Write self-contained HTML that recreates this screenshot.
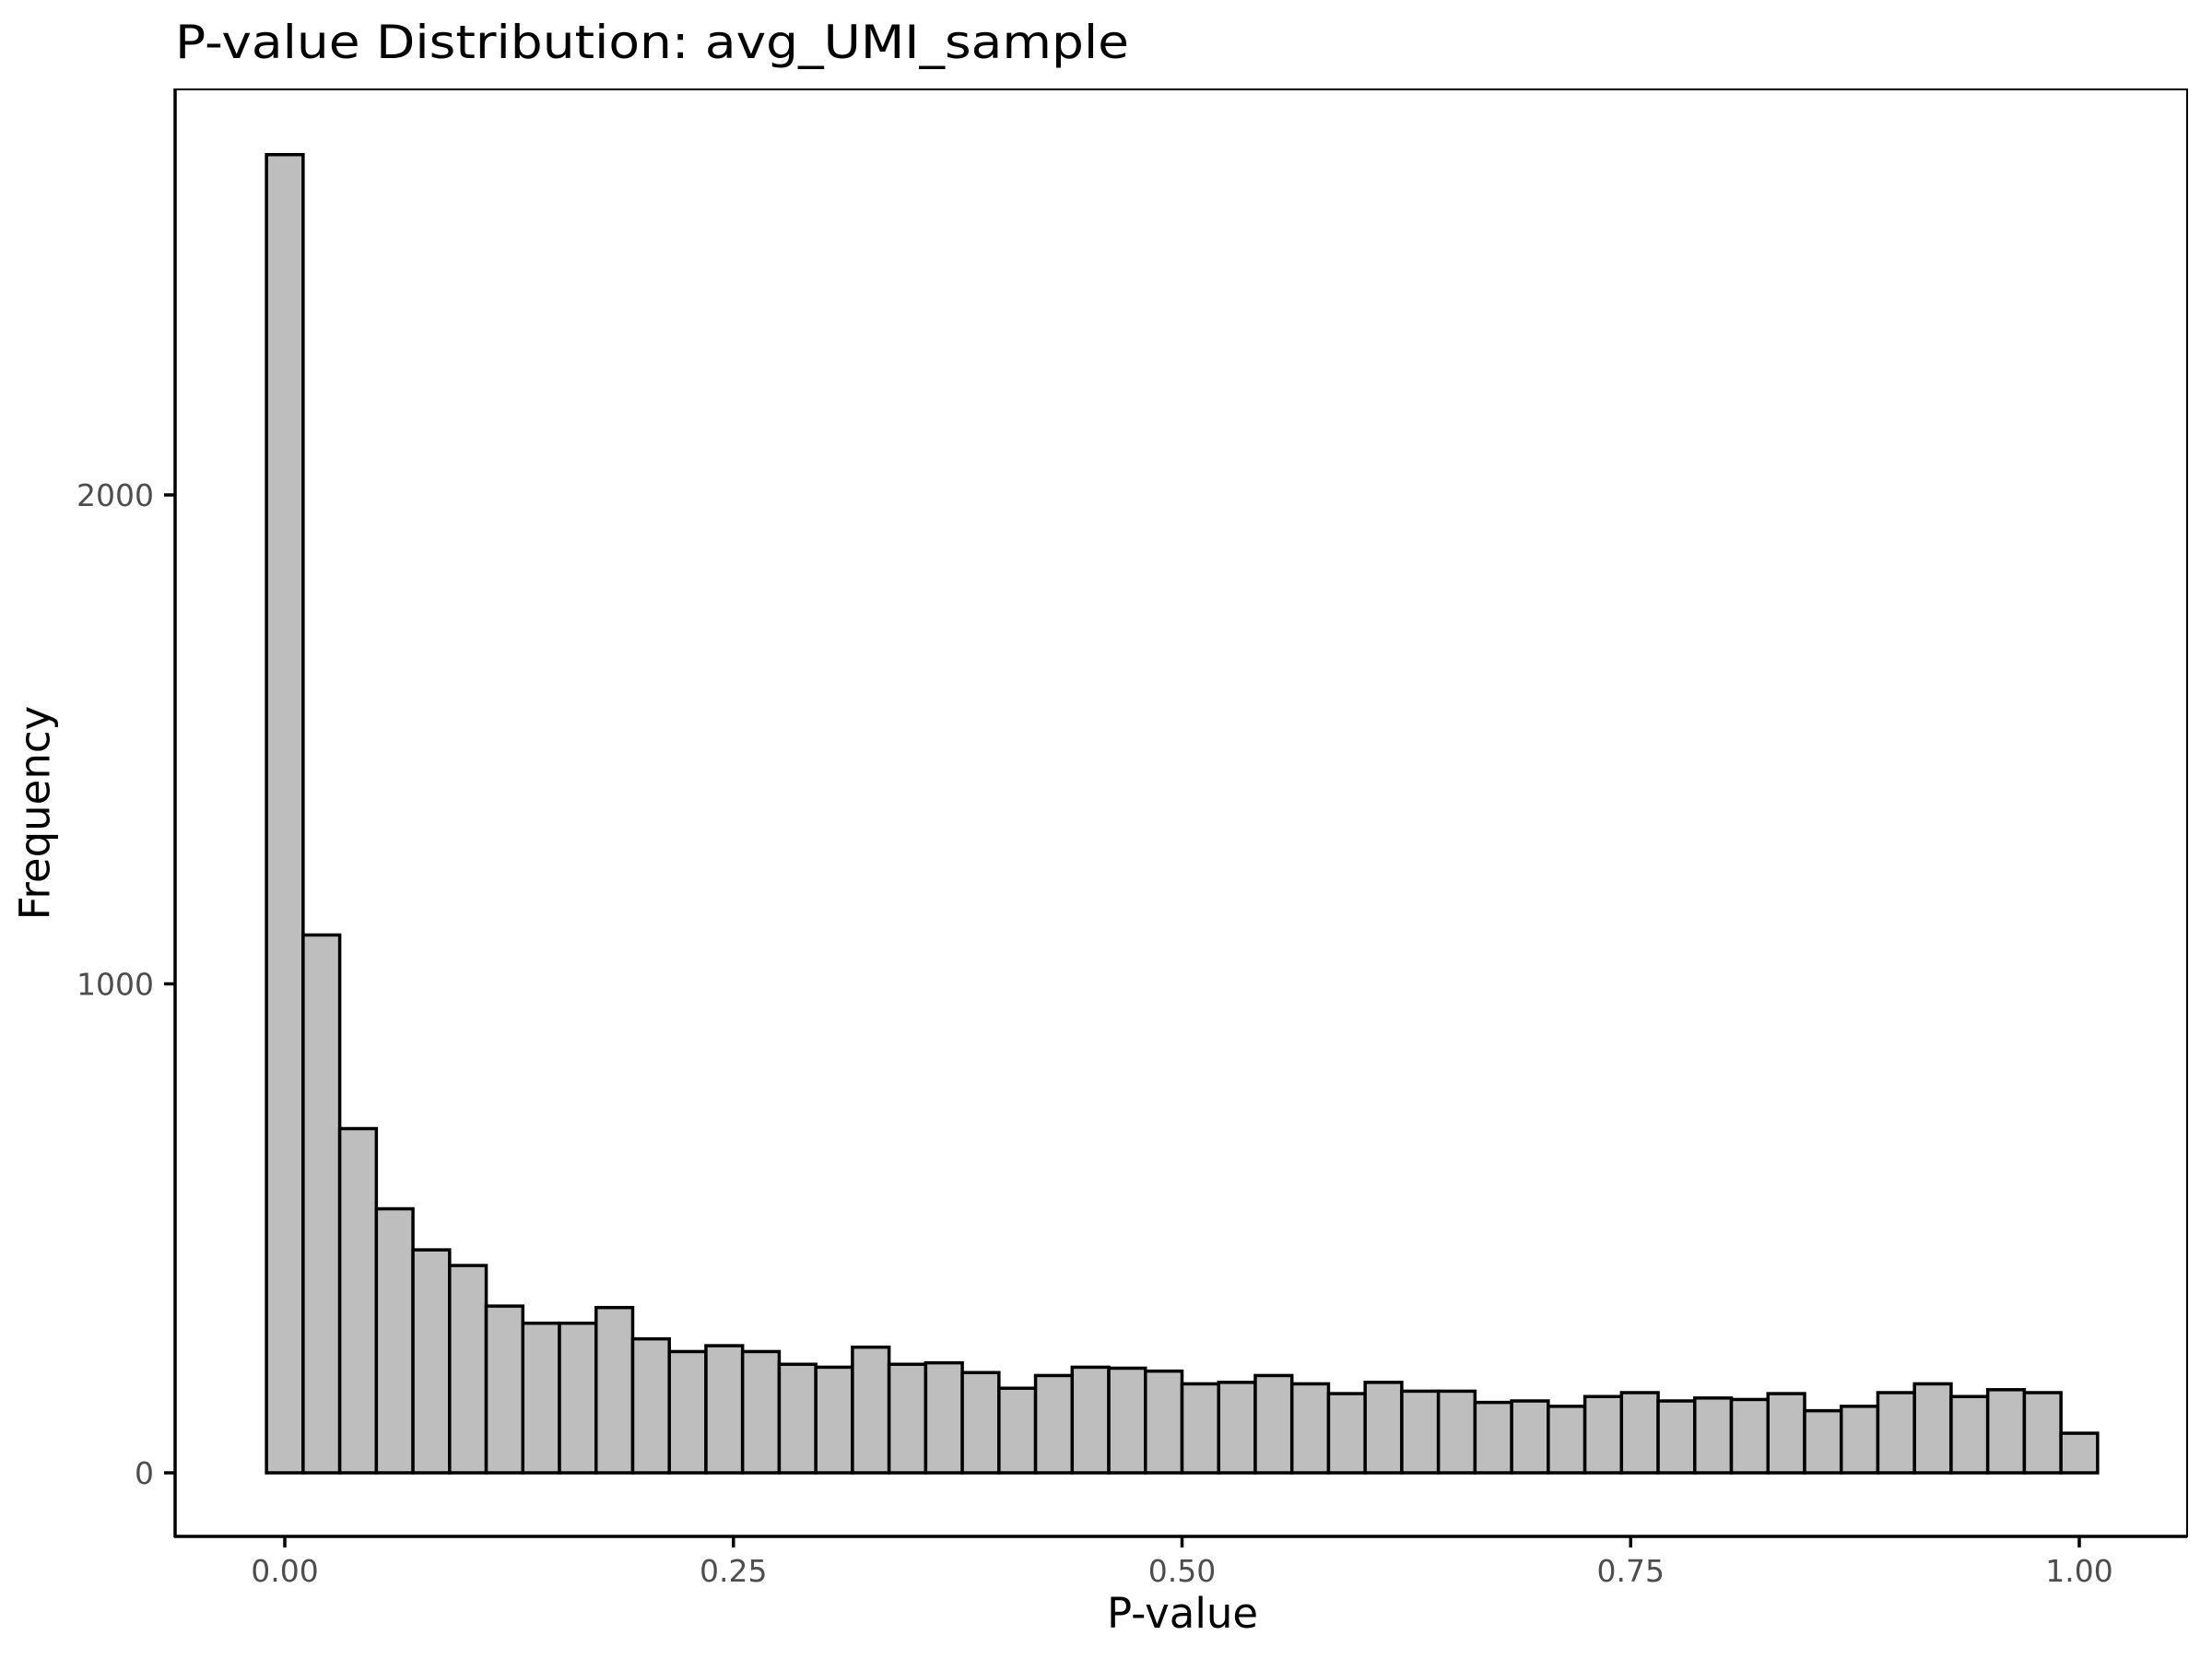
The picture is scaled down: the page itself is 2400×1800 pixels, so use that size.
<!DOCTYPE html>
<html><head><meta charset="utf-8"><style>body{margin:0;background:#fff}svg{display:block}</style></head>
<body>
<svg id="chart" width="2400" height="1800" viewBox="0 0 2400 1800" xmlns="http://www.w3.org/2000/svg" font-family="'DejaVu Sans','Liberation Sans',sans-serif">
<rect width="2400" height="1800" fill="#fff"/>
<text x="190" y="63" font-size="50" fill="#000" textLength="1035" lengthAdjust="spacingAndGlyphs">P-value Distribution: avg_UMI_sample</text>
<g id="bars"></g>
<rect x="190" y="97" width="2183" height="1570" fill="none" stroke="#000" stroke-width="2"/>
<line x1="190" y1="96" x2="190" y2="1668" stroke="#000" stroke-width="3.5"/>
<line x1="189" y1="1667" x2="2373" y2="1667" stroke="#000" stroke-width="3.5"/>
<g id="ticks"></g>
<text x="1283" y="1766" font-size="45" text-anchor="middle" fill="#000">P-value</text>
<text transform="translate(38,882) rotate(-90)" font-size="45" text-anchor="middle" dominant-baseline="central" fill="#000">Frequency</text>
</svg>
<script>
const counts=[2696,1100,704,540,456,424,341,306,306,338,274,248,260,248,222,216,257,222,225,205,173,199,216,214,208,182,185,199,182,162,185,167,167,144,147,136,156,164,147,153,150,162,127,136,164,182,156,170,164,81];
const xTicks=[0,0.25,0.5,0.75,1];
const xTickLabels=["0.00","0.25","0.50","0.75","1.00"];
const yTicks=[0,1000,2000];
const yTickLabels=["0","1000","2000"];
const binStart=-0.5/49, binWidth=1/49;
const NS="http://www.w3.org/2000/svg";
function xs(v){return 309+v*1947;}
function ys(v){return 1598-v*0.5305;}
const bars=document.getElementById('bars');
counts.forEach((c,i)=>{
  const r=document.createElementNS(NS,'rect');
  
  
  const x0=xs(binStart+i*binWidth),x1=xs(binStart+(i+1)*binWidth);
  r.setAttribute('x',x0);r.setAttribute('width',x1-x0);
  r.setAttribute('y',ys(c));r.setAttribute('height',ys(0)-ys(c));
  r.setAttribute('fill','#bebebe');r.setAttribute('stroke','#000');r.setAttribute('stroke-width','3.5');
  bars.appendChild(r);
});
const tk=document.getElementById('ticks');
xTicks.forEach((v,i)=>{
  const l=document.createElementNS(NS,'line');
  
  
  l.setAttribute('x1',xs(v));l.setAttribute('x2',xs(v));l.setAttribute('y1',1667);l.setAttribute('y2',1679);
  l.setAttribute('stroke','#000');l.setAttribute('stroke-width','3.5');tk.appendChild(l);
  const t=document.createElementNS(NS,'text');
  
  
  t.setAttribute('x',xs(v));t.setAttribute('y',1716);t.setAttribute('font-size','33');
  t.setAttribute('text-anchor','middle');t.setAttribute('fill','#4d4d4d');t.textContent=xTickLabels[i];tk.appendChild(t);
});
yTicks.forEach((v,i)=>{
  const l=document.createElementNS(NS,'line');
  
  
  l.setAttribute('x1',178);l.setAttribute('x2',190);l.setAttribute('y1',ys(v));l.setAttribute('y2',ys(v));
  l.setAttribute('stroke','#000');l.setAttribute('stroke-width','3.5');tk.appendChild(l);
  const t=document.createElementNS(NS,'text');
  
  
  t.setAttribute('x',167);t.setAttribute('y',ys(v)+12);t.setAttribute('font-size','33');
  t.setAttribute('text-anchor','end');t.setAttribute('fill','#4d4d4d');t.textContent=yTickLabels[i];tk.appendChild(t);
});
</script>
</body></html>
